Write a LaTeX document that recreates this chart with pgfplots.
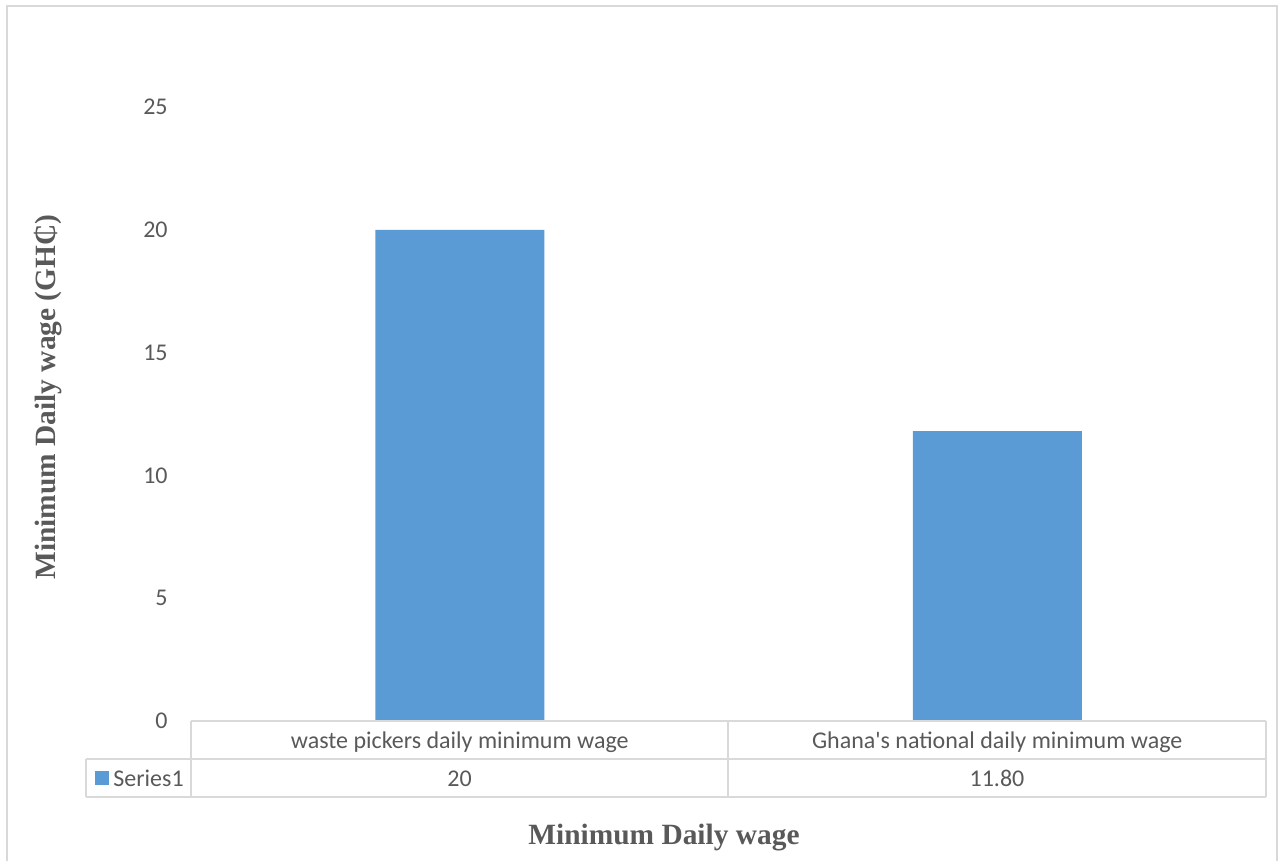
\documentclass[border=0pt]{standalone}
\usepackage{pgfplots}
\pgfplotsset{compat=1.18}
\usepackage{fontspec}
\setmainfont{Carlito}
\newfontfamily\serifb{Liberation Serif}
\definecolor{txt}{HTML}{595959}
\definecolor{bar}{HTML}{5B9BD5}
\definecolor{grd}{HTML}{D9D9D9}
\begin{document}
\begin{tikzpicture}
\begin{scope}[x=0.5pt,y=-0.5pt]
\useasboundingbox (0,0) rectangle (1279,861);
\draw[grd, line width=0.9pt] (7,861) -- (7,6) -- (1277,6) -- (1277,861);
\end{scope}
\begin{axis}[
  at={(95.5pt,-360.5pt)}, anchor=south west,
  scale only axis, width=537.5pt, height=307pt,
  xmin=-0.5, xmax=1.5, ymin=0, ymax=25,
  ytick={0,5,...,25},
  xtick={0,1},
  xticklabels={waste pickers daily minimum wage, Ghana\textquotesingle s national daily minimum wage},
  axis line style={draw=none},
  major tick length=0pt,
  tick label style={font=\fontsize{12}{14}\selectfont, text=txt},
  /pgf/number format/assume math mode=true,
  yticklabel style={anchor=east, inner sep=0pt, xshift=-11.5pt},
  xticklabel style={anchor=base, inner sep=0pt, yshift=-13.5pt},
  ybar, bar width=84.5pt,
  clip=false,
]
\addplot[fill=bar, draw=none] coordinates {(0,20) (1,11.8)};
\end{axis}
\begin{scope}[x=0.5pt,y=-0.5pt]
\draw[grd, line width=0.75pt] (191,721) -- (1266,721);
\draw[grd, line width=0.75pt] (86,759) -- (1266,759);
\draw[grd, line width=0.75pt] (86,797) -- (1266,797);
\draw[grd, line width=0.75pt] (86,759) -- (86,797);
\draw[grd, line width=0.75pt] (191,721) -- (191,797);
\draw[grd, line width=0.75pt] (728,721) -- (728,797);
\draw[grd, line width=0.75pt] (1266,721) -- (1266,797);
\fill[bar] (95,771) rectangle (109,785);
\node[anchor=base west, inner sep=0pt, text=txt, font=\fontsize{12}{14}\selectfont] at (113,786) {Series1};
\node[anchor=base, inner sep=0pt, text=txt, font=\fontsize{12}{14}\selectfont] at (459.5,786) {20};
\node[anchor=base, inner sep=0pt, text=txt, font=\fontsize{12}{14}\selectfont] at (997,786) {11.80};
\node[rotate=90, text=txt, inner sep=0pt, font=\serifb\bfseries\fontsize{14.7}{16}\selectfont] at (48,397) {Minimum Daily wage (GH₵)};
\node[text=txt, inner sep=0pt, font=\serifb\bfseries\fontsize{14.7}{16}\selectfont] at (664,838) {Minimum Daily wage};
\end{scope}
\end{tikzpicture}
\end{document}
